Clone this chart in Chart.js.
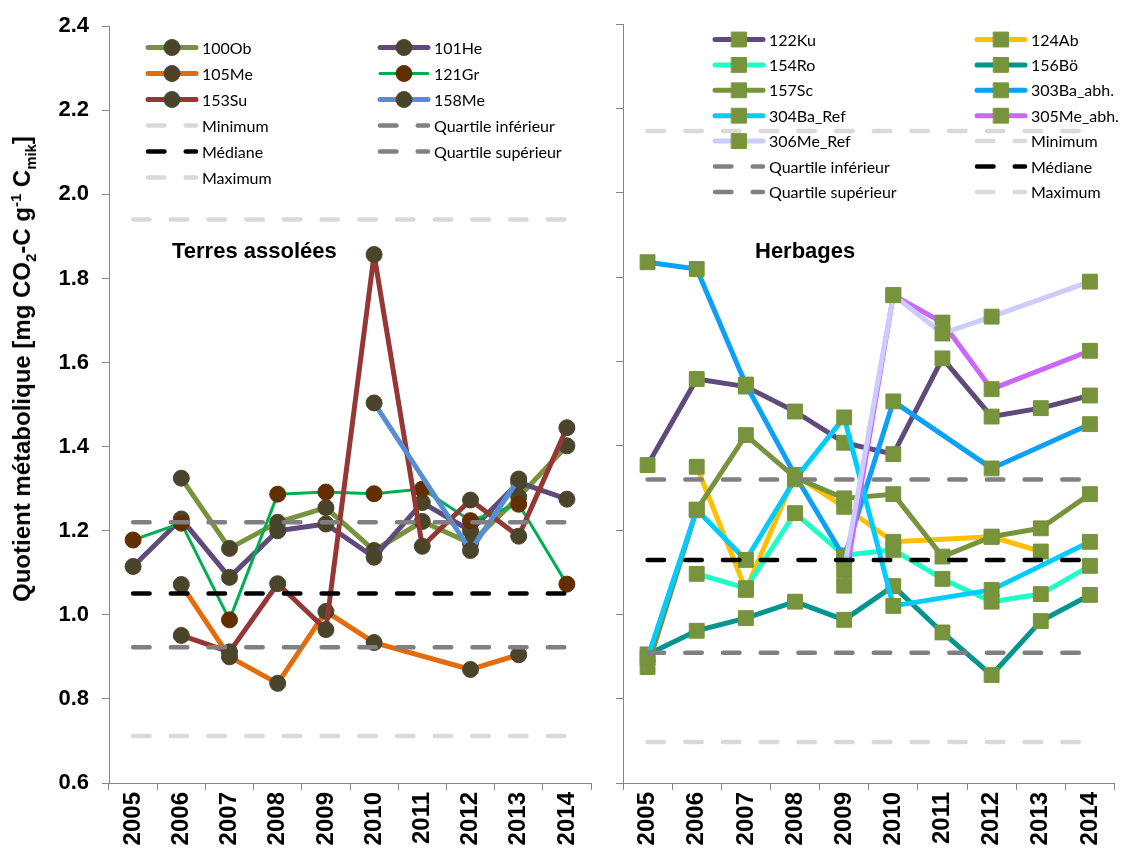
<!DOCTYPE html>
<html>
<head>
<meta charset="utf-8">
<title>Quotient métabolique</title>
<script src="https://cdn.jsdelivr.net/npm/chart.js@4.4.1/dist/chart.umd.min.js"></script>
<style>
  html, body { margin: 0; padding: 0; background: #fff; }
  #wrap { position: relative; width: 1126px; height: 853px; overflow: hidden; }
  canvas { position: absolute; top: 0; }
  #cropChart { left: 0; }
  #grassChart { left: 600px; }
  #yTitle {
    position: absolute; left: 22px; top: 369px;
    transform: translate(-50%, -50%) rotate(-90deg);
    white-space: nowrap; color: #000;
    font: bold 24px "Liberation Sans", Arial, sans-serif;
  }
  #yTitle sub, #yTitle sup { font-size: 0.62em; line-height: 0; }
</style>
</head>
<body>
<div id="wrap">
  <canvas id="cropChart" width="600" height="853"></canvas>
  <canvas id="grassChart" width="526" height="853"></canvas>
  <div id="yTitle">Quotient métabolique [mg CO<sub>2</sub>-C g<sup>-1</sup> C<sub>mik</sub>]</div>
</div>
<script>
const years = ['2005', '2006', '2007', '2008', '2009', '2010', '2011', '2012', '2013', '2014'];

// Terres assolées
const ob100 = [null, 1.325, 1.158, 1.220, 1.255, 1.153, 1.222, 1.170, 1.280, 1.402];
const he101 = [1.115, 1.228, 1.089, 1.200, 1.216, 1.137, 1.267, 1.200, 1.315, 1.275];
const me105 = [null, 1.072, 0.900, 0.837, 1.008, 0.934, null, 0.870, 0.905, null];
const gr121 = [1.178, 1.218, 0.988, 1.287, 1.292, 1.288, 1.299, 1.224, 1.263, 1.073];
const su153 = [null, 0.951, 0.912, 1.074, 0.965, 1.857, 1.163, 1.273, 1.187, 1.445];
const me158 = [null, null, null, null, null, 1.504, null, 1.153, 1.323, null];

const cropMin = [0.712, 0.712, 0.712, 0.712, 0.712, 0.712, 0.712, 0.712, 0.712, 0.712];
const cropQ1 = [0.923, 0.923, 0.923, 0.923, 0.923, 0.923, 0.923, 0.923, 0.923, 0.923];
const cropMed = [1.051, 1.051, 1.051, 1.051, 1.051, 1.051, 1.051, 1.051, 1.051, 1.051];
const cropQ3 = [1.220, 1.220, 1.220, 1.220, 1.220, 1.220, 1.220, 1.220, 1.220, 1.220];
const cropMax = [1.940, 1.940, 1.940, 1.940, 1.940, 1.940, 1.940, 1.940, 1.940, 1.940];

// Herbages
const ku122 = [1.354, 1.558, 1.540, 1.481, 1.407, 1.380, 1.607, 1.469, 1.489, 1.519];
const ab124 = [null, 1.350, 1.058, 1.330, 1.255, 1.172, null, 1.184, 1.149, null];
const ro154 = [null, 1.096, 1.062, 1.240, 1.140, 1.153, 1.084, 1.030, 1.048, 1.115];
const bo156 = [0.905, 0.961, 0.991, 1.030, 0.987, 1.067, 0.957, 0.856, 0.984, 1.046];
const sc157 = [0.875, 1.248, 1.425, 1.325, 1.275, 1.285, 1.137, 1.184, 1.204, 1.285];
const ba303 = [1.835, 1.819, 1.545, 1.330, 1.135, 1.505, null, 1.346, null, 1.451];
const baRef304 = [0.897, 1.248, 1.129, 1.320, 1.467, 1.020, null, 1.058, null, 1.172];
const me305 = [null, null, null, null, 1.068, 1.757, 1.692, 1.534, null, 1.625];
const meRef306 = [null, null, null, null, 1.105, 1.757, 1.666, 1.706, null, 1.789];

const grassMin = [0.697, 0.697, 0.697, 0.697, 0.697, 0.697, 0.697, 0.697, 0.697, 0.697];
const grassQ1 = [0.909, 0.909, 0.909, 0.909, 0.909, 0.909, 0.909, 0.909, 0.909, 0.909];
const grassMed = [1.129, 1.129, 1.129, 1.129, 1.129, 1.129, 1.129, 1.129, 1.129, 1.129];
const grassQ3 = [1.320, 1.320, 1.320, 1.320, 1.320, 1.320, 1.320, 1.320, 1.320, 1.320];
const grassMax = [2.146, 2.146, 2.146, 2.146, 2.146, 2.146, 2.146, 2.146, 2.146, 2.146];

const axisGray = '#868686';
const dotColor = '#4A452A';
const squareColor = '#77933C';
Chart.defaults.font.family = '"Liberation Sans", Arial, sans-serif';
Chart.defaults.color = '#000';

// legend in two columns + panel caption, drawn over the plot
const panelLegend = {
    id: 'panelLegend',
    afterDraw(chart, args, opts) {
        const ctx = chart.ctx;
        chart.data.datasets.forEach((ds, i) => {
            const x = opts.cols[i % 2];
            const y = opts.top + Math.floor(i / 2) * opts.rowH;
            ctx.save();
            ctx.strokeStyle = ds.borderColor;
            ctx.lineWidth = ds.borderWidth;
            ctx.lineCap = 'round';
            ctx.setLineDash(ds.borderDash || []);
            ctx.beginPath();
            ctx.moveTo(x + 2, y);
            ctx.lineTo(x + opts.sample - 2, y);
            ctx.stroke();
            ctx.setLineDash([]);
            if (ds.pointRadius > 0) {
                ctx.fillStyle = ds.pointBackgroundColor;
                ctx.strokeStyle = ds.pointBorderColor;
                ctx.lineWidth = 1;
                Chart.helpers.drawPoint(ctx, {
                    pointStyle: ds.pointStyle, radius: ds.pointRadius, rotation: 0, borderWidth: 1
                }, x + opts.sample / 2, y);
            }
            ctx.fillStyle = '#000';
            ctx.font = '16px Lato';
            ctx.textBaseline = 'middle';
            ctx.fillText(ds.label, x + opts.sample + 4, y + 1);
            ctx.restore();
        });
        ctx.save();
        ctx.fillStyle = '#000';
        ctx.font = 'bold 22px "Liberation Sans"';
        ctx.textBaseline = 'middle';
        ctx.fillText(opts.caption, opts.captionX, opts.captionY);
        ctx.restore();
    }
};

function series(label, data, color, marker, round) {
    return {
        label, data,
        borderColor: color,
        borderWidth: label === '121Gr' ? 3 : 5,
        borderCapStyle: 'round',
        borderJoinStyle: 'round',
        pointStyle: round ? 'circle' : 'rect',
        pointRadius: round ? 8 : 10.5,
        pointBackgroundColor: marker,
        pointBorderColor: marker,
        pointBorderWidth: 1,
        spanGaps: true,
        tension: 0
    };
}

function refLine(label, data, color) {
    return {
        label, data,
        borderColor: color,
        borderWidth: 4.5,
        borderDash: [16.5, 21.2],
        borderCapStyle: 'round',
        pointRadius: 0,
        tension: 0
    };
}

function panelOptions(cfg) {
    return {
        responsive: false,
        animation: false,
        layout: { padding: { top: 24, right: cfg.padRight, left: 0, bottom: 0 } },
        plugins: {
            legend: { display: false },
            tooltip: { enabled: false },
            panelLegend: cfg.legend
        },
        scales: {
            x: {
                offset: true,
                grid: { offset: true, drawOnChartArea: false, tickLength: 7, color: axisGray },
                border: { color: axisGray },
                ticks: {
                    minRotation: 90, maxRotation: 90, padding: 2,
                    font: { size: 24, weight: 'bold' }
                },
                afterFit: s => { s.height = 70; }
            },
            y: {
                min: 0.6, max: 2.4,
                grid: { drawOnChartArea: false, tickLength: 7, color: axisGray },
                border: { color: axisGray },
                ticks: {
                    display: cfg.yLabels, stepSize: 0.2, padding: 13,
                    font: { size: 22, weight: 'bold' },
                    callback: v => v.toFixed(1)
                },
                afterFit: s => { s.width = cfg.yWidth; }
            }
        }
    };
}

function withOrder(datasets) {
    // later series are painted above earlier ones
    datasets.forEach((ds, i) => { ds.order = -i; });
    return datasets;
}

new Chart(document.getElementById('cropChart'), {
    type: 'line',
    data: {
        labels: years,
        datasets: withOrder([
            series('100Ob', ob100, '#77933C', dotColor, true),
            series('101He', he101, '#604A7B', dotColor, true),
            series('105Me', me105, '#E46C0A', dotColor, true),
            series('121Gr', gr121, '#00B050', '#632F00', true),
            series('153Su', su153, '#953735', dotColor, true),
            series('158Me', me158, '#558ED5', dotColor, true),
            refLine('Minimum', cropMin, '#D9D9D9'),
            refLine('Quartile inférieur', cropQ1, '#808080'),
            refLine('Médiane', cropMed, '#000000'),
            refLine('Quartile supérieur', cropQ3, '#808080'),
            refLine('Maximum', cropMax, '#D9D9D9')
        ])
    },
    options: panelOptions({
        padRight: 7, yWidth: 109, yLabels: true,
        legend: {
            cols: [146, 378], top: 47.5, rowH: 26, sample: 52,
            caption: 'Terres assolées', captionX: 172, captionY: 252
        }
    }),
    plugins: [panelLegend]
});

new Chart(document.getElementById('grassChart'), {
    type: 'line',
    data: {
        labels: years,
        datasets: withOrder([
            series('122Ku', ku122, '#604A7B', squareColor, false),
            series('124Ab', ab124, '#FFC000', squareColor, false),
            series('154Ro', ro154, '#1EFFC8', squareColor, false),
            series('156Bö', bo156, '#00968F', squareColor, false),
            series('157Sc', sc157, '#77933C', squareColor, false),
            series('303Ba_abh.', ba303, '#0EA0F8', squareColor, false),
            series('304Ba_Ref', baRef304, '#00CCFF', squareColor, false),
            series('305Me_abh.', me305, '#CC66FF', squareColor, false),
            series('306Me_Ref', meRef306, '#CCCCFF', squareColor, false),
            refLine('Minimum', grassMin, '#D9D9D9'),
            refLine('Quartile inférieur', grassQ1, '#808080'),
            refLine('Médiane', grassMed, '#000000'),
            refLine('Quartile supérieur', grassQ3, '#808080'),
            refLine('Maximum', grassMax, '#D9D9D9')
        ])
    },
    options: panelOptions({
        padRight: 11, yWidth: 23, yLabels: false,
        legend: {
            cols: [113, 375], top: 39.5, rowH: 25.4, sample: 52,
            caption: 'Herbages', captionX: 155, captionY: 252
        }
    }),
    plugins: [panelLegend]
});
</script>
</body>
</html>
